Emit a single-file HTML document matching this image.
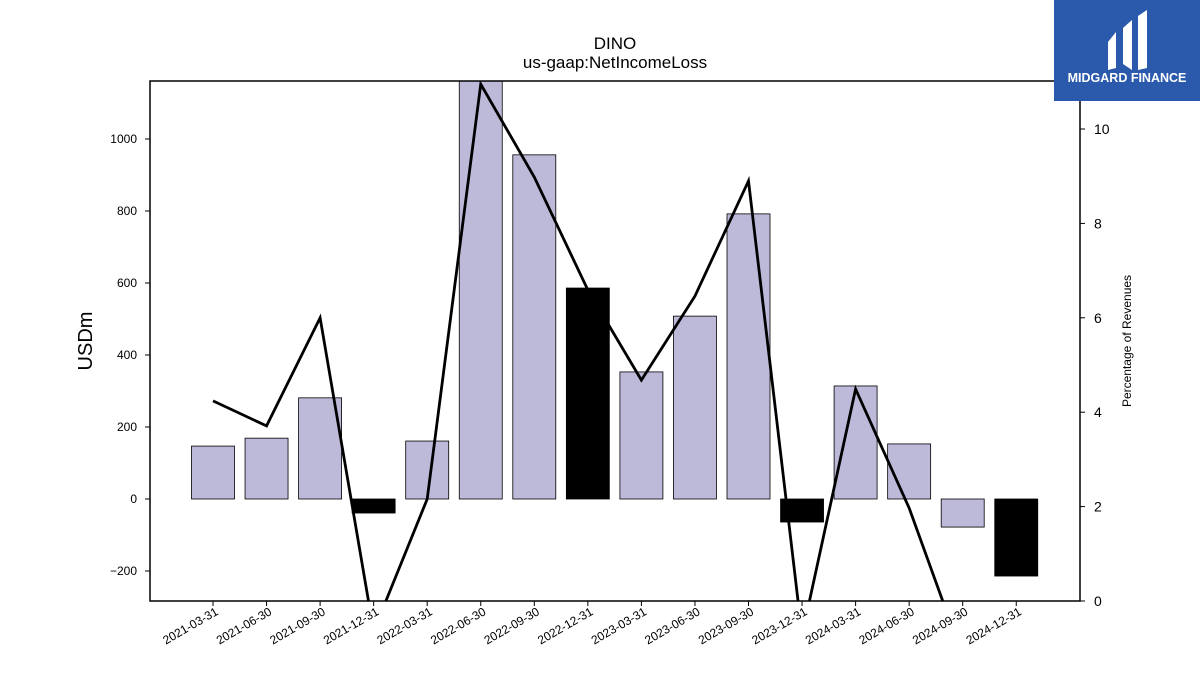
<!DOCTYPE html>
<html><head><meta charset="utf-8"><style>
body{margin:0;background:#fff;font-family:"Liberation Sans","DejaVu Sans",sans-serif}
</style></head><body>
<svg id="c" width="1200" height="675" xmlns="http://www.w3.org/2000/svg" style="display:block">
<defs><clipPath id="pc"><rect x="150" y="81" width="930" height="520"/></clipPath></defs>
<text x="615" y="49" text-anchor="middle" font-size="17">DINO</text>
<text x="615" y="68" text-anchor="middle" font-size="17">us-gaap:NetIncomeLoss</text>
<g id="bars" clip-path="url(#pc)"></g>
<g id="line" clip-path="url(#pc)"></g>
<rect x="150" y="81" width="930" height="520" fill="none" stroke="#000" stroke-width="1.5"/>
<g id="axes"></g>
<text transform="translate(92,341) rotate(-90)" text-anchor="middle" font-size="20">USDm</text>
<text transform="translate(1131,341) rotate(-90)" text-anchor="middle" font-size="12">Percentage of Revenues</text>
<g>
<rect x="1054" y="0" width="146" height="101" fill="#2b5aad"/>
<path d="M1108 42 L1116 32 L1116 68 L1108 70 Z" fill="#fff"/>
<path d="M1123 28 L1132 20 L1132 70 L1123 64 Z" fill="#fff"/>
<path d="M1138 16 L1147 10 L1147 68 L1138 70 Z" fill="#fff"/>
<text x="1127" y="82" text-anchor="middle" font-size="12.5" font-weight="bold" fill="#fff">MIDGARD FINANCE</text>
</g>
</svg>
<script>
const categories=["2021-03-31","2021-06-30","2021-09-30","2021-12-31","2022-03-31","2022-06-30","2022-09-30","2022-12-31","2023-03-31","2023-06-30","2023-09-30","2023-12-31","2024-03-31","2024-06-30","2024-09-30","2024-12-31"];
const netIncome=[147,169,281,-39,161,1175,956,586,353,508,792,-64,314,153,-78,-214];
const highlight=[0,0,0,1,0,0,0,1,0,0,0,1,0,0,0,1];
const pctRevenue=[4.24,3.71,6.0,-0.64,2.16,10.95,8.98,6.59,4.68,6.46,8.9,-0.72,4.49,1.97,-1.17,-1.6];
const leftTicks=[-200,0,200,400,600,800,1000];
const rightTicks=[0,2,4,6,8,10];
const NS="http://www.w3.org/2000/svg";
const yL=v=>499-v*0.36, yR=v=>601-v*47.2, xC=i=>213+i*53.55;
function mk(t,a,p){const e=document.createElementNS(NS,t);for(const k in a)e.setAttribute(k,a[k]);p.appendChild(e);return e;}
const bars=document.getElementById('bars'),axes=document.getElementById('axes'),line=document.getElementById('line');
categories.forEach((c,i)=>{const v=netIncome[i];const y0=yL(0),y1=yL(v);
 const r=mk('rect',{x:xC(i)-21.5,y:Math.min(y0,y1),width:43,height:Math.abs(y1-y0),fill:highlight[i]?'#000':'#bdbad9',stroke:'#000','stroke-width':0.8},bars);
 
 
 mk('line',{x1:xC(i),x2:xC(i),y1:601,y2:606,stroke:'#000'},axes);
 const t=mk('text',{x:0,y:0,'font-size':12,'text-anchor':'end',transform:`translate(${xC(i)+6},${614}) rotate(-30)`},axes);t.textContent=c;
 
 
});
leftTicks.forEach(v=>{mk('line',{x1:145,x2:150,y1:yL(v),y2:yL(v),stroke:'#000'},axes);
 const t=mk('text',{x:137,y:yL(v)+4,'font-size':12,'text-anchor':'end'},axes);t.textContent=v<0?'\u2212'+(-v):v;
 
 });
rightTicks.forEach(v=>{mk('line',{x1:1080,x2:1085,y1:yR(v),y2:yR(v),stroke:'#000'},axes);
 const t=mk('text',{x:1094,y:yR(v)+5,'font-size':14},axes);t.textContent=v;
 
 });
const p=mk('polyline',{points:pctRevenue.map((v,i)=>xC(i)+','+yR(v)).join(' '),fill:'none',stroke:'#000','stroke-width':2.8},line);


</script>
</body></html>
